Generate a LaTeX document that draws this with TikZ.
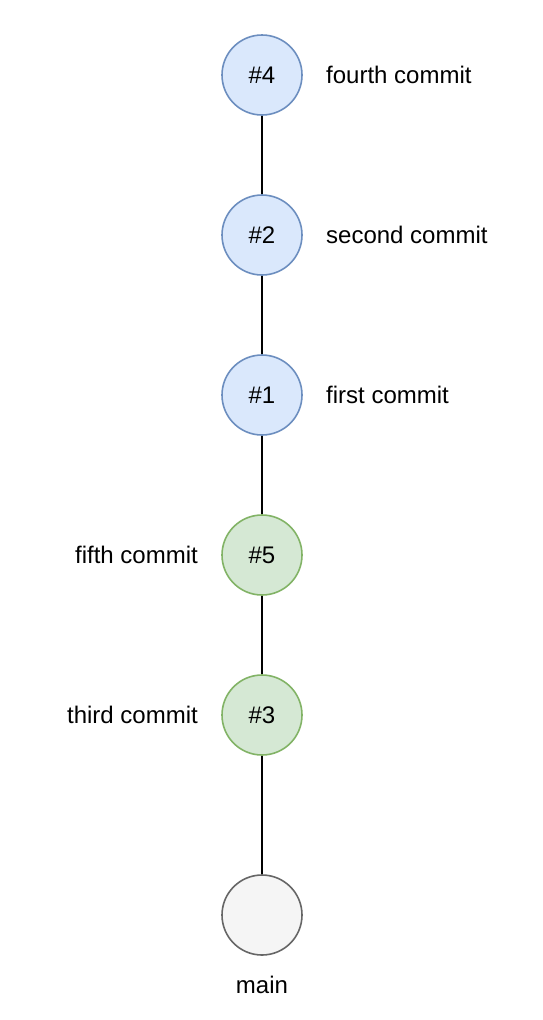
\documentclass[tikz,border=0pt]{standalone}
\usepackage{fontspec}
\setmainfont{Liberation Sans}
\definecolor{bfill}{HTML}{DAE8FC}
\definecolor{bdraw}{HTML}{6C8EBF}
\definecolor{gfill}{HTML}{D5E8D4}
\definecolor{gdraw}{HTML}{82B366}
\definecolor{nfill}{HTML}{F5F5F5}
\definecolor{ndraw}{HTML}{666666}
\begin{document}
\begin{tikzpicture}[x=1pt,y=-1pt,
  commit/.style={circle,minimum size=80pt,inner sep=0pt,line width=1.6pt,font=\fontsize{24}{28}\selectfont},
  blue/.style={commit,fill=bfill,draw=bdraw},
  green/.style={commit,fill=gfill,draw=gdraw},
  gray/.style={commit,fill=nfill,draw=ndraw},
  lbl/.style={font=\fontsize{24}{28}\selectfont,inner sep=0pt},
  link/.style={draw=black,line width=1.3pt}]
\useasboundingbox (0,0) rectangle (542,1020);
\node[blue] (c4) at (262,75) {\#4};
\node[blue] (c2) at (262,235) {\#2};
\node[blue] (c1) at (262,395) {\#1};
\node[green] (c5) at (262,555) {\#5};
\node[green] (c3) at (262,715) {\#3};
\node[gray] (m) at (262,915) {};
\node[lbl,anchor=west] (l4) at (326,75) {fourth commit};
\node[lbl,anchor=west] (l2) at (326,235) {second commit};
\node[lbl,anchor=west] (l1) at (326,395) {first commit};
\node[lbl,anchor=east] (l5) at (198,555) {fifth commit};
\node[lbl,anchor=east] (l3) at (198,715) {third commit};
\node[lbl] (lm) at (262,985) {main};
\draw[link] (c4) -- (c2);
\draw[link] (c2) -- (c1);
\draw[link] (c1) -- (c5);
\draw[link] (c5) -- (c3);
\draw[link] (c3) -- (m);
\end{tikzpicture}
\end{document}
